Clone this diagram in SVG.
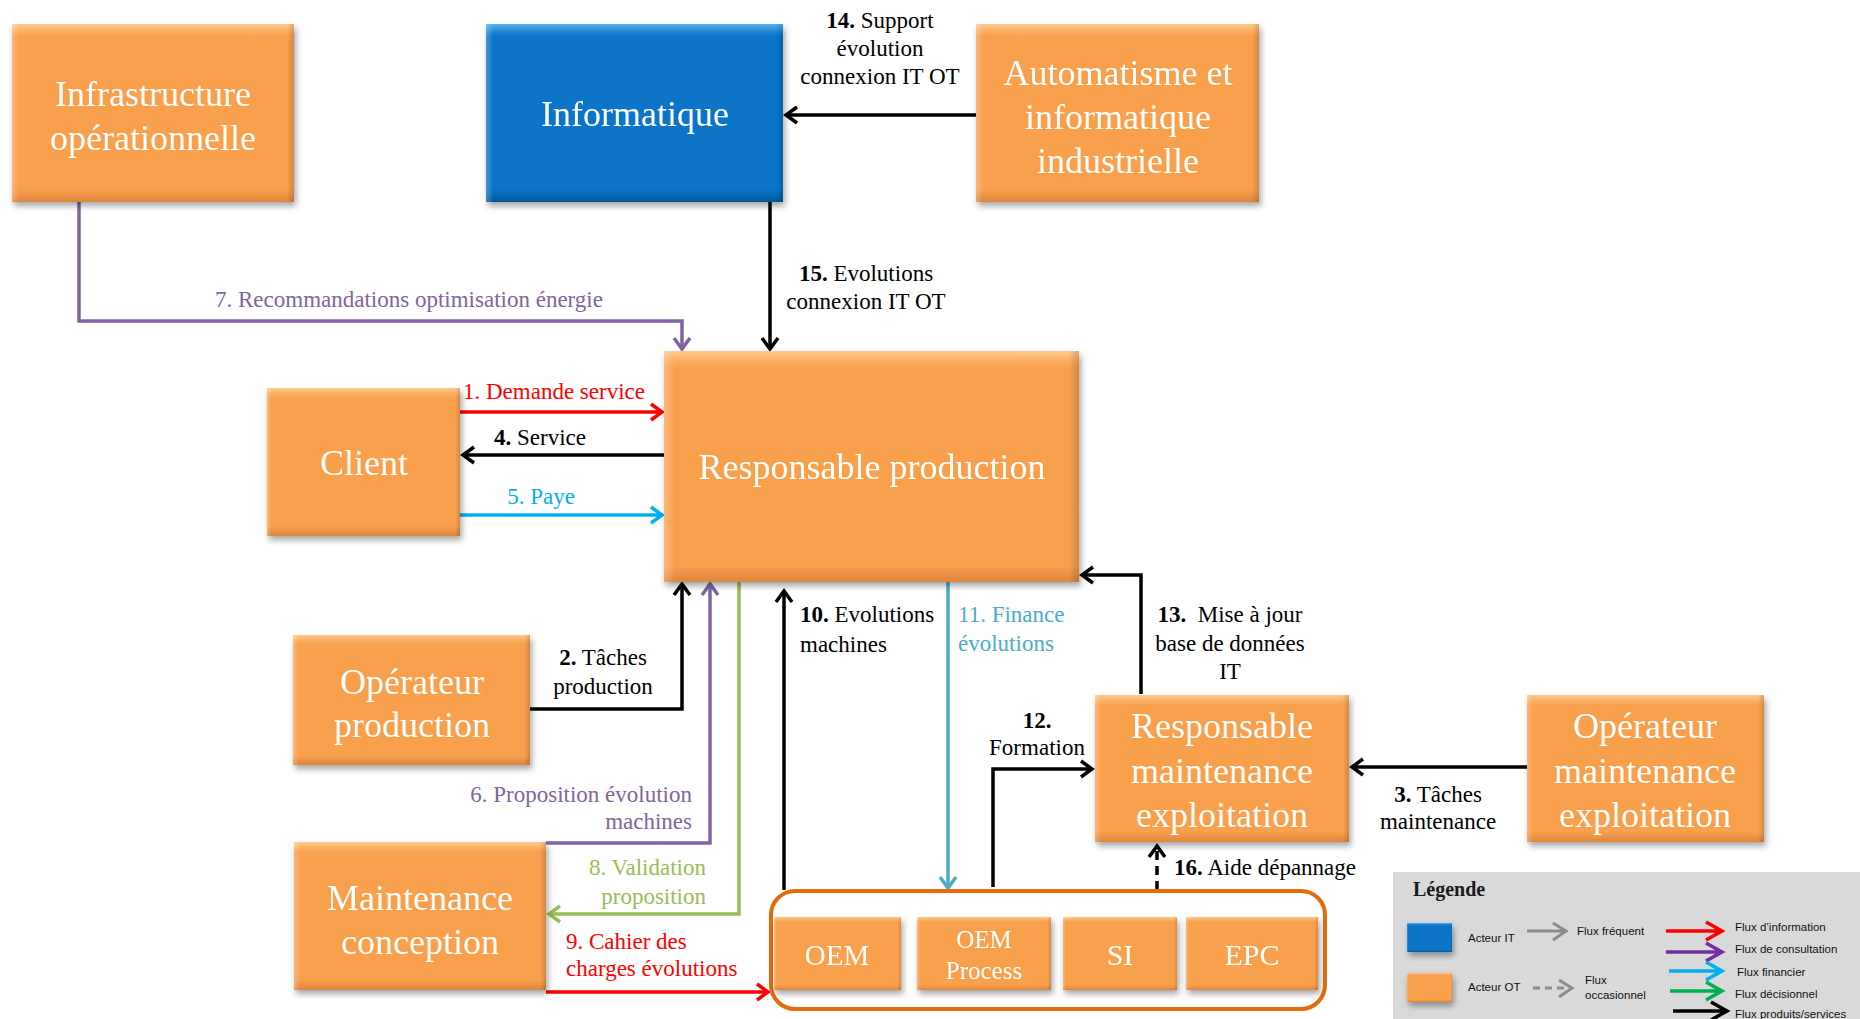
<svg xmlns="http://www.w3.org/2000/svg" width="1860" height="1019" viewBox="0 0 1860 1019">
<style>
.nt{font-family:"Liberation Serif","Times New Roman",serif;fill:#fff;font-size:36px;text-anchor:middle}
.lb{font-family:"Liberation Serif","Times New Roman",serif;font-size:23px;fill:#000}
.c{text-anchor:middle}
.r{text-anchor:end}
.b{font-weight:bold}
.ln{fill:none;stroke-width:3.5}
.lg{font-family:"Liberation Sans",Arial,sans-serif;font-size:11.5px;fill:#111}
.ob{fill:url(#og)}
.bb{fill:url(#bg)}
.ov{fill:url(#hg)}
</style>
<defs>
<linearGradient id="og" x1="0" y1="0" x2="0" y2="1">
<stop offset="0" stop-color="#FDCC90"/><stop offset="0.035" stop-color="#FBB266"/><stop offset="0.07" stop-color="#F9A04E"/><stop offset="0.93" stop-color="#F9A04E"/><stop offset="1" stop-color="#DC853D"/>
</linearGradient>
<linearGradient id="bg" x1="0" y1="0" x2="0" y2="1">
<stop offset="0" stop-color="#5AB0EE"/><stop offset="0.035" stop-color="#2C8FDA"/><stop offset="0.07" stop-color="#0775C8"/><stop offset="0.93" stop-color="#0775C8"/><stop offset="1" stop-color="#05589A"/>
</linearGradient>
<linearGradient id="hg" x1="0" y1="0" x2="1" y2="0">
<stop offset="0" stop-color="#fff" stop-opacity="0.25"/><stop offset="0.025" stop-color="#fff" stop-opacity="0"/><stop offset="0.975" stop-color="#000" stop-opacity="0"/><stop offset="1" stop-color="#000" stop-opacity="0.15"/>
</linearGradient>
<filter id="sh" x="-10%" y="-10%" width="130%" height="140%"><feDropShadow dx="2" dy="4" stdDeviation="3" flood-color="#000" flood-opacity="0.35"/></filter>
<marker id="mk" viewBox="0 0 20 20" refX="16" refY="10" markerWidth="20" markerHeight="20" orient="auto" markerUnits="userSpaceOnUse"><path d="M5,2 L16,10 L5,18" fill="none" stroke="#000" stroke-width="3.5"/></marker>
<marker id="mr" viewBox="0 0 20 20" refX="16" refY="10" markerWidth="20" markerHeight="20" orient="auto" markerUnits="userSpaceOnUse"><path d="M5,2 L16,10 L5,18" fill="none" stroke="#FF0000" stroke-width="3.5"/></marker>
<marker id="mp" viewBox="0 0 20 20" refX="16" refY="10" markerWidth="20" markerHeight="20" orient="auto" markerUnits="userSpaceOnUse"><path d="M5,2 L16,10 L5,18" fill="none" stroke="#8064A2" stroke-width="3.5"/></marker>
<marker id="mb" viewBox="0 0 20 20" refX="16" refY="10" markerWidth="20" markerHeight="20" orient="auto" markerUnits="userSpaceOnUse"><path d="M5,2 L16,10 L5,18" fill="none" stroke="#00B0F0" stroke-width="3.5"/></marker>
<marker id="mg" viewBox="0 0 20 20" refX="16" refY="10" markerWidth="20" markerHeight="20" orient="auto" markerUnits="userSpaceOnUse"><path d="M5,2 L16,10 L5,18" fill="none" stroke="#9BBB59" stroke-width="3.5"/></marker>
<marker id="mt" viewBox="0 0 20 20" refX="16" refY="10" markerWidth="20" markerHeight="20" orient="auto" markerUnits="userSpaceOnUse"><path d="M5,2 L16,10 L5,18" fill="none" stroke="#4BACC6" stroke-width="3.5"/></marker>
</defs>
<rect width="1860" height="1019" fill="#fff"/>

<g id="connectors">
<path class="ln" stroke="#000" marker-end="url(#mk)" d="M976,115 H786"/>
<path class="ln" stroke="#000" marker-end="url(#mk)" d="M770,202 V349"/>
<path class="ln" stroke="#8064A2" marker-end="url(#mp)" d="M79,202 V321 H682 V349"/>
<path class="ln" stroke="#FF0000" marker-end="url(#mr)" d="M460,412 H662"/>
<path class="ln" stroke="#000" marker-end="url(#mk)" d="M664,455 H463"/>
<path class="ln" stroke="#00B0F0" marker-end="url(#mb)" d="M460,515 H662"/>
<path class="ln" stroke="#000" marker-end="url(#mk)" d="M530,709 H682 V584"/>
<path class="ln" stroke="#8064A2" marker-end="url(#mp)" d="M546,843 H710 V584"/>
<path class="ln" stroke="#9BBB59" marker-end="url(#mg)" d="M739,574 V914 H549"/>
<path class="ln" stroke="#FF0000" marker-end="url(#mr)" d="M546,992 H768"/>
<path class="ln" stroke="#000" marker-end="url(#mk)" d="M784,890 V591"/>
<path class="ln" stroke="#4BACC6" marker-end="url(#mt)" d="M948,581 V888"/>
<path class="ln" stroke="#000" marker-end="url(#mk)" d="M993,887 V769 H1092"/>
<path class="ln" stroke="#000" marker-end="url(#mk)" d="M1141,694 V575 H1082"/>
<path class="ln" stroke="#000" marker-end="url(#mk)" d="M1527,767 H1352"/>
<path class="ln" stroke="#000" stroke-dasharray="9,6" marker-end="url(#mk)" d="M1157,890 V846"/>
</g>

<g id="labels">
<text class="lb c" x="880"><tspan x="880" y="28"><tspan class="b">14.</tspan> Support</tspan><tspan x="880" y="56">évolution</tspan><tspan x="880" y="84">connexion IT OT</tspan></text>
<text class="lb c"><tspan x="866" y="281"><tspan class="b">15.</tspan> Evolutions</tspan><tspan x="866" y="309">connexion IT OT</tspan></text>
<text class="lb c" x="409" y="307" style="fill:#8064A2">7. Recommandations optimisation énergie</text>
<text class="lb c" x="554" y="399" style="fill:#FF0000">1. Demande service</text>
<text class="lb c" x="540" y="445"><tspan class="b">4.</tspan> Service</text>
<text class="lb c" x="541" y="504" style="fill:#00B0F0">5. Paye</text>
<text class="lb c"><tspan x="603" y="665"><tspan class="b">2.</tspan> Tâches</tspan><tspan x="603" y="694">production</tspan></text>
<text class="lb r" style="fill:#8064A2"><tspan x="692" y="802">6. Proposition évolution</tspan><tspan x="692" y="829">machines</tspan></text>
<text class="lb r" style="fill:#9BBB59"><tspan x="706" y="875">8. Validation</tspan><tspan x="706" y="904">proposition</tspan></text>
<text class="lb" style="fill:#FF0000"><tspan x="566" y="949">9. Cahier des</tspan><tspan x="566" y="976">charges évolutions</tspan></text>
<text class="lb"><tspan x="800" y="622"><tspan class="b">10.</tspan> Evolutions</tspan><tspan x="800" y="652">machines</tspan></text>
<text class="lb" style="fill:#4BACC6"><tspan x="958" y="622">11. Finance</tspan><tspan x="958" y="651">évolutions</tspan></text>
<text class="lb c"><tspan x="1230" y="622"><tspan class="b">13.</tspan>&#160; Mise à jour</tspan><tspan x="1230" y="651">base de données</tspan><tspan x="1230" y="679">IT</tspan></text>
<text class="lb c"><tspan x="1037" y="728" class="b">12.</tspan><tspan x="1037" y="755">Formation</tspan></text>
<text class="lb c"><tspan x="1438" y="802"><tspan class="b">3.</tspan> Tâches</tspan><tspan x="1438" y="829">maintenance</tspan></text>
<text class="lb" x="1174" y="875"><tspan class="b">16.</tspan> Aide dépannage</text>
</g>

<g id="infra" filter="url(#sh)"><rect class="ob" x="12" y="24" width="282" height="178"/><rect class="ov" x="12" y="24" width="282" height="178"/>
<text class="nt"><tspan x="153" y="106">Infrastructure</tspan><tspan x="153" y="150">opérationnelle</tspan></text></g>

<g id="informatique" filter="url(#sh)"><rect class="bb" x="486" y="24" width="297" height="178"/><rect class="ov" x="486" y="24" width="297" height="178"/>
<text class="nt" x="635" y="126">Informatique</text></g>

<g id="automatisme" filter="url(#sh)"><rect class="ob" x="976" y="24" width="283" height="178"/><rect class="ov" x="976" y="24" width="283" height="178"/>
<text class="nt"><tspan x="1118" y="85">Automatisme et</tspan><tspan x="1118" y="129">informatique</tspan><tspan x="1118" y="173">industrielle</tspan></text></g>

<g id="resp-production" filter="url(#sh)"><rect class="ob" x="664" y="351" width="415" height="231"/><rect class="ov" x="664" y="351" width="415" height="231"/>
<text class="nt" x="872" y="479">Responsable production</text></g>

<g id="client" filter="url(#sh)"><rect class="ob" x="267" y="388" width="193" height="148"/><rect class="ov" x="267" y="388" width="193" height="148"/>
<text class="nt" x="364" y="475">Client</text></g>

<g id="operateur-production" filter="url(#sh)"><rect class="ob" x="293" y="635" width="237" height="130"/><rect class="ov" x="293" y="635" width="237" height="130"/>
<text class="nt"><tspan x="412" y="694">Opérateur</tspan><tspan x="412" y="737">production</tspan></text></g>

<g id="maintenance-conception" filter="url(#sh)"><rect class="ob" x="294" y="842" width="252" height="148"/><rect class="ov" x="294" y="842" width="252" height="148"/>
<text class="nt"><tspan x="420" y="910">Maintenance</tspan><tspan x="420" y="954">conception</tspan></text></g>

<g id="resp-maintenance" filter="url(#sh)"><rect class="ob" x="1095" y="695" width="254" height="147"/><rect class="ov" x="1095" y="695" width="254" height="147"/>
<text class="nt"><tspan x="1222" y="738">Responsable</tspan><tspan x="1222" y="783">maintenance</tspan><tspan x="1222" y="827">exploitation</tspan></text></g>

<g id="operateur-maintenance" filter="url(#sh)"><rect class="ob" x="1527" y="695" width="237" height="147"/><rect class="ov" x="1527" y="695" width="237" height="147"/>
<text class="nt"><tspan x="1645" y="738">Opérateur</tspan><tspan x="1645" y="783">maintenance</tspan><tspan x="1645" y="827">exploitation</tspan></text></g>

<g id="prestataires">
<rect x="771" y="891" width="554" height="118" rx="24" fill="none" stroke="#E46C0A" stroke-width="4"/>
<g id="oem" filter="url(#sh)"><rect class="ob" x="774" y="917" width="127" height="73"/><rect class="ov" x="774" y="917" width="127" height="73"/><text class="nt" style="font-size:29px" x="837" y="965">OEM</text></g>
<g id="oem-process" filter="url(#sh)"><rect class="ob" x="917" y="917" width="134" height="73"/><rect class="ov" x="917" y="917" width="134" height="73"/><text class="nt" style="font-size:25px"><tspan x="984" y="948">OEM</tspan><tspan x="984" y="979">Process</tspan></text></g>
<g id="si" filter="url(#sh)"><rect class="ob" x="1063" y="917" width="114" height="73"/><rect class="ov" x="1063" y="917" width="114" height="73"/><text class="nt" style="font-size:30px" x="1120" y="965">SI</text></g>
<g id="epc" filter="url(#sh)"><rect class="ob" x="1186" y="917" width="132" height="73"/><rect class="ov" x="1186" y="917" width="132" height="73"/><text class="nt" style="font-size:30px" x="1252" y="965">EPC</text></g>
</g>

<g id="legende">
<rect x="1393" y="872" width="467" height="147" fill="#D9D9D9"/>
<text x="1413" y="896" style="font-family:'Liberation Serif',serif;font-size:20px;font-weight:bold;fill:#1a1a1a">Légende</text>
<g filter="url(#sh)"><rect class="bb" x="1407" y="923" width="45" height="29"/><rect class="ov" x="1407" y="923" width="45" height="29"/></g>
<text class="lg" x="1468" y="942">Acteur IT</text>
<g filter="url(#sh)"><rect class="ob" x="1407" y="973" width="45" height="29"/><rect class="ov" x="1407" y="973" width="45" height="29"/></g>
<text class="lg" x="1468" y="991">Acteur OT</text>
<path d="M1527,931 H1565 M1553,923 L1566,931 L1553,940" fill="none" stroke="#8C8C8C" stroke-width="3"/>
<text class="lg" x="1577" y="935">Flux fréquent</text>
<path d="M1533,988 H1571" fill="none" stroke="#8C8C8C" stroke-width="3" stroke-dasharray="7,5"/>
<path d="M1559,980 L1572,988 L1559,997" fill="none" stroke="#8C8C8C" stroke-width="3"/>
<text class="lg"><tspan x="1585" y="984">Flux</tspan><tspan x="1585" y="999">occasionnel</tspan></text>
<path d="M1666,931 H1721 M1706,922 L1722,931 L1706,940" fill="none" stroke="#FF0000" stroke-width="3.5"/>
<text class="lg" x="1735" y="931">Flux d’information</text>
<path d="M1666,952 H1721 M1706,943 L1722,952 L1706,961" fill="none" stroke="#7030A0" stroke-width="3.5"/>
<text class="lg" x="1735" y="953">Flux de consultation</text>
<path d="M1669,971 H1721 M1706,962 L1722,971 L1706,980" fill="none" stroke="#00B0F0" stroke-width="3.5"/>
<text class="lg" x="1737" y="976">Flux financier</text>
<path d="M1670,991 H1721 M1706,982 L1722,991 L1706,1000" fill="none" stroke="#00B050" stroke-width="3.5"/>
<text class="lg" x="1735" y="998">Flux décisionnel</text>
<path d="M1673,1011 H1726 M1711,1002 L1727,1011 L1711,1020" fill="none" stroke="#000" stroke-width="3.5"/>
<text class="lg" x="1735" y="1018">Flux produits/services</text>
</g>
</svg>
